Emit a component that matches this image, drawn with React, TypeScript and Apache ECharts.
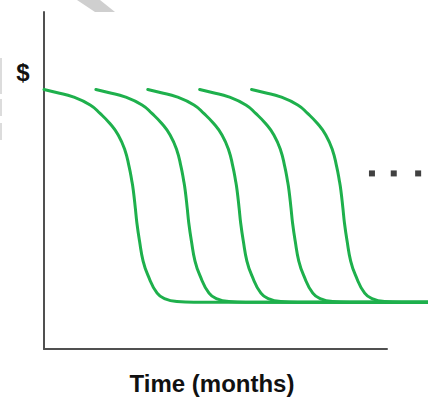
import React, { useEffect, useRef } from "react";
import * as echarts from "echarts";

// Revenue profile of one product generation: months since launch / $ level
const profileMonths = [
  0, 2.4, 5.6, 8.9, 10.8, 12.7, 14.3, 15.6, 16.4, 16.9, 17.2, 17.6, 17.9,
  18.4, 19.1, 20.0, 21.8, 23.5, 25.6, 28.9,
];
const profileValues = [
  77.0, 76.1, 74.8, 72.4, 69.9, 66.9, 63.5, 59.0, 54.1, 50.1, 47.2, 41.8, 37.4,
  32.1, 26.1, 22.0, 16.6, 14.8, 14.1, 13.9,
];

// Launch month of each successive generation
const launchMonths = [0, 10, 20, 30, 40];

// Horizon of the time axis
const horizonMonth = 74;

// "..." continuation marks
const ellipsisMonths = [63.2, 67.4, 72.1];
const ellipsisLevel = 52.1;

const GREEN = "#1eb04c";

function buildCurve(start: number): number[][] {
  const pts = profileMonths.map((m, i) => [start + m, profileValues[i]]);
  pts.push([horizonMonth, profileValues[profileValues.length - 1]]);
  return pts;
}

export default function App() {
  const ref = useRef<HTMLDivElement>(null);

  useEffect(() => {
    if (!ref.current) return;
    const chart = echarts.init(ref.current, null, { renderer: "svg" });

    const curves = launchMonths.map((start, i) => ({
      type: "line",
      name: `Generation ${i + 1}`,
      xAxisIndex: 1,
      yAxisIndex: 1,
      data: buildCurve(start),
      smooth: 0.5,
      showSymbol: false,
      lineStyle: { color: GREEN, width: 3, cap: "round", join: "round" },
      z: 3,
    }));

    chart.setOption({
      animation: false,
      backgroundColor: "#ffffff",
      grid: [
        { left: 44, right: 41, top: 12, bottom: 49 },
        { left: 44, right: 0, top: 12, bottom: 49 },
      ],
      xAxis: [
        {
          type: "value",
          gridIndex: 0,
          min: 0,
          max: 100,
          axisLine: { show: true, lineStyle: { color: "#505050", width: 2 } },
          axisTick: { show: false },
          axisLabel: { show: false },
          splitLine: { show: false },
        },
        {
          type: "value",
          gridIndex: 1,
          min: 0,
          max: horizonMonth,
          show: false,
        },
      ],
      yAxis: [
        {
          type: "value",
          gridIndex: 0,
          min: 0,
          max: 100,
          axisLine: { show: true, lineStyle: { color: "#505050", width: 2 } },
          axisTick: { show: false },
          axisLabel: { show: false },
          splitLine: { show: false },
        },
        {
          type: "value",
          gridIndex: 1,
          min: 0,
          max: 100,
          show: false,
        },
      ],
      series: [
        ...curves,
        {
          type: "scatter",
          xAxisIndex: 1,
          yAxisIndex: 1,
          data: ellipsisMonths.map((m) => [m, ellipsisLevel]),
          symbol: "rect",
          symbolSize: 6,
          itemStyle: { color: "#111111" },
          silent: true,
        },
      ],
      graphic: [
        {
          type: "polygon",
          shape: { points: [[77, 0], [100, 0], [115, 12], [95, 12]] },
          style: { fill: "#cfcfcf" },
          silent: true,
        },
        { type: "rect", shape: { x: 0, y: 58, width: 2, height: 36 }, style: { fill: "#dcdcdc" } },
        { type: "rect", shape: { x: 0, y: 99, width: 2, height: 17 }, style: { fill: "#dcdcdc" } },
        { type: "rect", shape: { x: 0, y: 123, width: 2, height: 17 }, style: { fill: "#dcdcdc" } },
        {
          type: "text",
          x: 23,
          y: 72,
          style: {
            text: "$",
            fontFamily: "Liberation Sans, Arial, sans-serif",
            fontWeight: "bold",
            fontSize: 24,
            fill: "#111111",
            align: "center",
            verticalAlign: "middle",
          },
        },
        {
          type: "text",
          x: 212,
          y: 383,
          style: {
            text: "Time (months)",
            fontFamily: "Liberation Sans, Arial, sans-serif",
            fontWeight: "bold",
            fontSize: 24,
            fill: "#111111",
            align: "center",
            verticalAlign: "middle",
          },
        },
      ],
    });

    return () => chart.dispose();
  }, []);

  return (
    <div
      ref={ref}
      style={{ position: "fixed", left: 0, top: 0, width: 428, height: 398 }}
    />
  );
}
